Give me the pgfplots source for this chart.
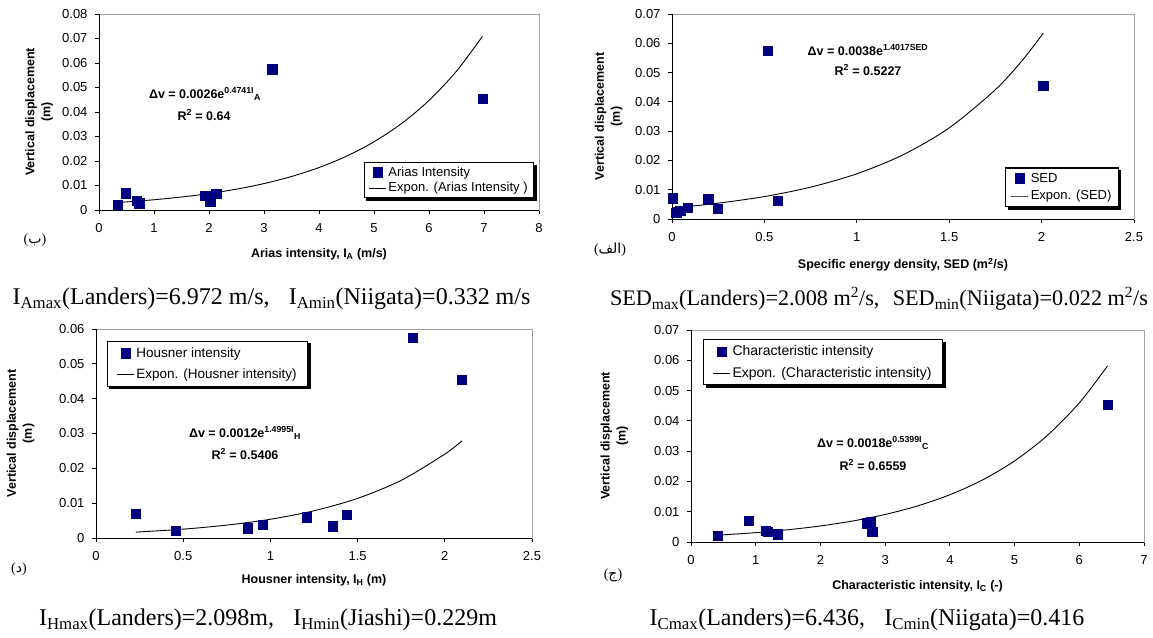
\documentclass[border=0pt]{standalone}
\usepackage{fontspec}
\setmainfont{Liberation Sans}
\newfontfamily\timesfont{Liberation Serif}
\newfontfamily\arabicfont[Script=Arabic]{DejaVu Sans}
\TeXXeTstate=1
\usepackage{graphicx}
\usepackage{pgfplots}
\pgfplotsset{compat=1.18}
\definecolor{navy}{RGB}{0,0,128}
\definecolor{frameg}{RGB}{160,160,160}
\pgfdeclarelayer{background}
\pgfsetlayers{background,main}

\pgfplotsset{
  panel/.style={
    scale only axis,
    anchor=south west,
    clip=false,
    scaled y ticks=false, scaled x ticks=false,
    axis line style={frameg, line width=0.8pt},
    tick align=outside,
    xtick pos=left, ytick pos=left,
    major tick length=4pt,
    tick style={black, line width=0.8pt},
    ticklabel style={font=\fontsize{13}{15}\selectfont},
    xticklabel style={yshift=-6pt},
    yticklabel style={xshift=-4pt},
    label style={font=\bfseries\fontsize{12.5}{16}\selectfont, align=center},
    xlabel style={anchor=center},
    ylabel style={anchor=center},
    legend style={draw=black, line width=1.1pt, fill=white,
      font=\fontsize{13}{15}\selectfont, cells={anchor=west},
      inner xsep=4pt, inner ysep=2pt, row sep=1pt},
  },
  pts/.style={only marks, mark=square*, mark size=4.6pt, mark options={fill=navy, draw=navy, line width=0.3pt}},
  trend/.style={black, line width=0.9pt, no marks, smooth},
}

\begin{document}
\begin{tikzpicture}
\useasboundingbox (0,0) rectangle (1153pt,637pt);

% ---------------- Panel 1: Arias intensity ----------------
\begin{axis}[panel,
  at={(99pt,427pt)}, width=440pt, height=196pt,
  xmin=0, xmax=8, ymin=0, ymax=0.08,
  xtick={0,1,2,3,4,5,6,7,8}, xticklabels={0,1,2,3,4,5,6,7,8},
  ytick={0,0.01,0.02,0.03,0.04,0.05,0.06,0.07,0.08},
  yticklabels={0,0.01,0.02,0.03,0.04,0.05,0.06,0.07,0.08},
  xlabel={Arias intensity, I\textsubscript{A} (m/s)},
  xlabel style={at={(axis description cs:0.5,-0.225)}},
  ylabel={Vertical displacement\\(m)},
  ylabel style={at={(axis description cs:-0.136,0.5)}},
  legend style={at={(0.989,0.061)}, anchor=south east, name=leg1},
]
\draw[black, line width=0.8pt] (rel axis cs:0,1) -- (rel axis cs:0,0) -- (rel axis cs:1,0);
\addplot[pts] coordinates {
  (0.332,0.0022) (0.49,0.0069) (0.68,0.0038) (0.73,0.0028) (1.93,0.0060)
  (2.02,0.0035) (2.13,0.0068) (3.15,0.0575) (6.972,0.0455)
};
\addplot[trend] coordinates {
  (0.332,0.00304) (0.5,0.00330) (1,0.00418) (1.5,0.00530) (2,0.00671)
  (2.5,0.00851) (3,0.01078) (3.5,0.01367) (4,0.01732) (4.5,0.02196)
  (5,0.02783) (5.5,0.03527) (6,0.04471) (6.5,0.05667) (6.972,0.07088)
};
\legend{Arias Intensity, Expon. (Arias Intensity )}
\end{axis}

% ---------------- Panel 2: SED ----------------
\begin{axis}[panel,
  at={(672pt,418pt)}, width=462pt, height=205pt,
  xmin=0, xmax=2.5, ymin=0, ymax=0.07,
  xtick={0,0.5,1,1.5,2,2.5}, xticklabels={0,0.5,1,1.5,2,2.5},
  ytick={0,0.01,0.02,0.03,0.04,0.05,0.06,0.07},
  yticklabels={0,0.01,0.02,0.03,0.04,0.05,0.06,0.07},
  xlabel={Specific energy density, SED (m\textsuperscript{2}/s)},
  xlabel style={at={(axis description cs:0.5,-0.224)}},
  ylabel={Vertical displacement\\(m)},
  ylabel style={at={(axis description cs:-0.137,0.5)}},
  legend style={at={(0.9675,0.0585)}, anchor=south east, name=leg2, inner xsep=5pt, inner ysep=3pt, row sep=3pt},
]
\draw[black, line width=0.8pt] (rel axis cs:0,1) -- (rel axis cs:0,0) -- (rel axis cs:1,0);
\addplot[pts] coordinates {
  (0.004,0.0071) (0.022,0.0022) (0.044,0.0028) (0.083,0.0038) (0.196,0.0068)
  (0.246,0.0035) (0.519,0.0575) (0.570,0.0062) (2.008,0.0455)
};
\addplot[trend] coordinates {
  (0.005,0.00383) (0.1,0.00437) (0.25,0.00540) (0.5,0.00766) (0.75,0.01087)
  (1,0.01544) (1.25,0.02192) (1.5,0.03111) (1.75,0.04417) (1.9,0.05451) (2.008,0.06341)
};
\legend{SED, Expon. (SED)}
\end{axis}

% ---------------- Panel 3: Housner intensity ----------------
\begin{axis}[panel,
  at={(96pt,99pt)}, width=436pt, height=209pt,
  xmin=0, xmax=2.5, ymin=0, ymax=0.06,
  xtick={0,0.5,1,1.5,2,2.5}, xticklabels={0,0.5,1,1.5,2,2.5},
  ytick={0,0.01,0.02,0.03,0.04,0.05,0.06},
  yticklabels={0,0.01,0.02,0.03,0.04,0.05,0.06},
  xlabel={Housner intensity, I\textsubscript{H} (m)},
  xlabel style={at={(axis description cs:0.5,-0.201)}},
  ylabel={Vertical displacement\\(m)},
  ylabel style={at={(axis description cs:-0.173,0.5)}},
  legend style={at={(0.025,0.9426)}, anchor=north west, name=leg3,
    font=\fontsize{13.5}{16}\selectfont, inner xsep=9pt, inner ysep=4pt, row sep=6pt},
]
\draw[black, line width=0.8pt] (rel axis cs:0,1) -- (rel axis cs:0,0) -- (rel axis cs:1,0);
\addplot[pts] coordinates {
  (0.229,0.0071) (0.458,0.0022) (0.871,0.0028) (0.957,0.0038) (1.206,0.0060)
  (1.355,0.0034) (1.437,0.0068) (1.815,0.0575) (2.098,0.0455)
};
\addplot[trend] coordinates {
  (0.229,0.00169) (0.5,0.00254) (0.75,0.00370) (1,0.00538) (1.25,0.00782)
  (1.5,0.01138) (1.75,0.01655) (2,0.02408) (2.098,0.02789)
};
\legend{Housner intensity, Expon. (Housner intensity)}
\end{axis}

% ---------------- Panel 4: Characteristic intensity ----------------
\begin{axis}[panel,
  at={(691pt,95pt)}, width=453pt, height=212pt,
  xmin=0, xmax=7, ymin=0, ymax=0.07,
  xtick={0,1,2,3,4,5,6,7}, xticklabels={0,1,2,3,4,5,6,7},
  ytick={0,0.01,0.02,0.03,0.04,0.05,0.06,0.07},
  yticklabels={0,0.01,0.02,0.03,0.04,0.05,0.06,0.07},
  xlabel={Characteristic intensity, I\textsubscript{C} (-)},
  xlabel style={at={(axis description cs:0.5,-0.2075)}},
  ylabel={Vertical displacement\\(m)},
  ylabel style={at={(axis description cs:-0.169,0.5)}},
  legend style={at={(0.0265,0.9575)}, anchor=north west, name=leg4,
    font=\fontsize{14}{16.5}\selectfont, inner xsep=9pt, inner ysep=4pt, row sep=6pt},
]
\draw[black, line width=0.8pt] (rel axis cs:0,1) -- (rel axis cs:0,0) -- (rel axis cs:1,0);
\addplot[pts] coordinates {
  (0.416,0.0021) (0.886,0.0071) (1.15,0.0038) (1.19,0.0034) (1.338,0.0026)
  (2.72,0.0062) (2.78,0.0067) (2.80,0.0034) (6.436,0.0454)
};
\addplot[trend] coordinates {
  (0.416,0.00225) (1,0.00309) (1.5,0.00405) (2,0.00530) (2.5,0.00694)
  (3,0.00909) (3.5,0.01191) (4,0.01560) (4.5,0.02044) (5,0.02677)
  (5.5,0.03507) (6,0.04593) (6.436,0.05813)
};
\legend{Characteristic intensity, Expon. (Characteristic intensity)}
\end{axis}

% ---------------- Legend shadows ----------------
\begin{pgfonlayer}{background}
\foreach \n in {leg1,leg2,leg3,leg4}{
  \fill[black] ([shift={(2.5pt,-2.5pt)}]\n.south west) rectangle ([shift={(2.5pt,-2.5pt)}]\n.north east);
}
\end{pgfonlayer}

% ---------------- Equations ----------------
\begin{scope}[every node/.style={font=\bfseries\fontsize{12.5}{15}\selectfont}]
\node at (205pt,543pt) {Δv = 0.0026e\textsuperscript{0.4741I}\textsubscript{A}};
\node at (204pt,522pt) {R\textsuperscript{2} = 0.64};
\node at (868pt,587pt) {Δv = 0.0038e\textsuperscript{1.4017SED}};
\node at (868pt,567pt) {R\textsuperscript{2} = 0.5227};
\node at (245pt,204pt) {Δv = 0.0012e\textsuperscript{1.4995I}\textsubscript{H}};
\node at (245pt,183pt) {R\textsuperscript{2} = 0.5406};
\node at (873pt,194pt) {Δv = 0.0018e\textsuperscript{0.5399I}\textsubscript{C}};
\node at (873pt,172pt) {R\textsuperscript{2} = 0.6559};
\end{scope}

% ---------------- Panel letters ----------------
\begin{scope}[every node/.style={font=\timesfont\fontsize{14}{16}\selectfont}]
\node at (35pt,397pt) {({\arabicfont ب})};
\node at (610pt,387pt) {({\arabicfont الف})};
\node at (19pt,68pt) {({\arabicfont د})};
\node at (613pt,62pt) {({\arabicfont ج})};
\end{scope}

% ---------------- Captions ----------------
\begin{scope}[every node/.style={font=\timesfont\fontsize{24}{28}\selectfont, inner sep=0pt}]
\node at (271.5pt,338pt) {I\textsubscript{Amax}(Landers)=6.972 m/s,\hspace{0.8em}I\textsubscript{Amin}(Niigata)=0.332 m/s};
\node at (879pt,338pt) {\resizebox{538pt}{!}{SED\textsubscript{max}(Landers)=2.008 m\textsuperscript{2}/s,\hspace{0.6em}SED\textsubscript{min}(Niigata)=0.022 m\textsuperscript{2}/s}};
\node at (268pt,17pt) {I\textsubscript{Hmax}(Landers)=2.098m,\hspace{0.8em}I\textsubscript{Hmin}(Jiashi)=0.229m};
\node at (867pt,17pt) {I\textsubscript{Cmax}(Landers)=6.436,\hspace{0.8em}I\textsubscript{Cmin}(Niigata)=0.416};
\end{scope}
\end{tikzpicture}
\end{document}
